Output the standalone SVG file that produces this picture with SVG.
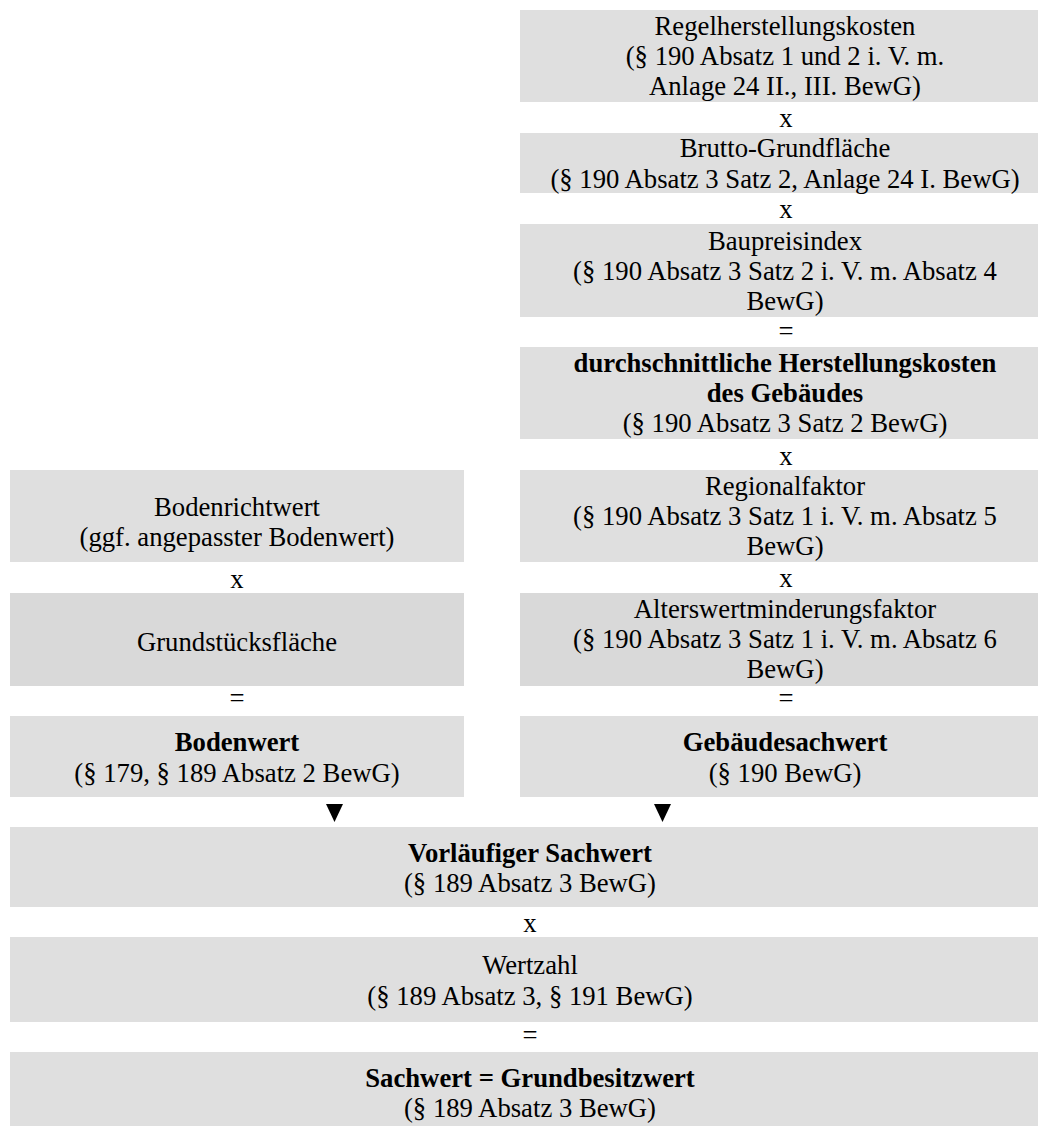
<svg xmlns="http://www.w3.org/2000/svg" width="1038" height="1126" viewBox="0 0 1038 1126">
<style>
.box{fill:#dfdfdf}
.box2{fill:#d9d9d9}
text{font-family:"Liberation Serif","Times New Roman",serif;font-size:26.7px;fill:#000;text-anchor:middle}
.b{font-weight:bold}
.arrow{fill:#000}
</style>
<rect width="1038" height="1126" fill="#fff"/>
<g id="n-regelherstellungskosten">
<rect class="box" x="520" y="10" width="518" height="92"/>
<text x="785" y="35">Regelherstellungskosten</text>
<text x="785" y="65">(§ 190 Absatz 1 und 2 i. V. m.</text>
<text x="785" y="95">Anlage 24 II., III. BewG)</text>
</g>
<g id="n-brutto-grundflaeche">
<rect class="box" x="520" y="133" width="518" height="60"/>
<text x="785" y="157">Brutto-Grundfläche</text>
<text x="785" y="188">(§ 190 Absatz 3 Satz 2, Anlage 24 I. BewG)</text>
</g>
<g id="n-baupreisindex">
<rect class="box" x="520" y="224" width="518" height="93"/>
<text x="785" y="250">Baupreisindex</text>
<text x="785" y="280">(§ 190 Absatz 3 Satz 2 i. V. m. Absatz 4</text>
<text x="785" y="310">BewG)</text>
</g>
<g id="n-durchschnittliche-herstellungskosten">
<rect class="box" x="520" y="347" width="518" height="92"/>
<text class="b" x="785" y="372">durchschnittliche Herstellungskosten</text>
<text class="b" x="785" y="402">des Gebäudes</text>
<text x="785" y="432">(§ 190 Absatz 3 Satz 2 BewG)</text>
</g>
<g id="n-regionalfaktor">
<rect class="box" x="520" y="470" width="518" height="92"/>
<text x="785" y="495">Regionalfaktor</text>
<text x="785" y="525">(§ 190 Absatz 3 Satz 1 i. V. m. Absatz 5</text>
<text x="785" y="555">BewG)</text>
</g>
<g id="n-alterswertminderungsfaktor">
<rect class="box2" x="520" y="593" width="518" height="93"/>
<text x="785" y="618">Alterswertminderungsfaktor</text>
<text x="785" y="648">(§ 190 Absatz 3 Satz 1 i. V. m. Absatz 6</text>
<text x="785" y="678">BewG)</text>
</g>
<g id="n-gebaeudesachwert">
<rect class="box" x="520" y="716" width="518" height="81"/>
<text class="b" x="785" y="751">Gebäudesachwert</text>
<text x="785" y="782">(§ 190 BewG)</text>
</g>
<g id="n-bodenrichtwert">
<rect class="box" x="10" y="470" width="454" height="92"/>
<text x="237" y="516">Bodenrichtwert</text>
<text x="237" y="546">(ggf. angepasster Bodenwert)</text>
</g>
<g id="n-grundstuecksflaeche">
<rect class="box2" x="10" y="593" width="454" height="93"/>
<text x="237" y="651">Grundstücksfläche</text>
</g>
<g id="n-bodenwert">
<rect class="box" x="10" y="716" width="454" height="81"/>
<text class="b" x="237" y="751">Bodenwert</text>
<text x="237" y="782">(§ 179, § 189 Absatz 2 BewG)</text>
</g>
<g id="n-vorlaeufiger-sachwert">
<rect class="box" x="10" y="827" width="1028" height="80"/>
<text class="b" x="530" y="862">Vorläufiger Sachwert</text>
<text x="530" y="892">(§ 189 Absatz 3 BewG)</text>
</g>
<g id="n-wertzahl">
<rect class="box" x="10" y="937" width="1028" height="85"/>
<text x="530" y="974">Wertzahl</text>
<text x="530" y="1005">(§ 189 Absatz 3, § 191 BewG)</text>
</g>
<g id="n-sachwert">
<rect class="box" x="10" y="1052" width="1028" height="74"/>
<text class="b" x="530" y="1087">Sachwert = Grundbesitzwert</text>
<text x="530" y="1117">(§ 189 Absatz 3 BewG)</text>
</g>
<g id="operators">
<text x="786" y="127">x</text>
<text x="786" y="218">x</text>
<text x="786" y="340">=</text>
<text x="786" y="465">x</text>
<text x="786" y="587">x</text>
<text x="786" y="707">=</text>
<text x="237" y="588">x</text>
<text x="237" y="707">=</text>
<text x="530" y="932">x</text>
<text x="530" y="1044">=</text>
</g>
<g id="connectors">
<polygon class="arrow" points="326,804 343,804 334.5,822"/>
<polygon class="arrow" points="654,804 671,804 662.5,822"/>
</g>
</svg>
